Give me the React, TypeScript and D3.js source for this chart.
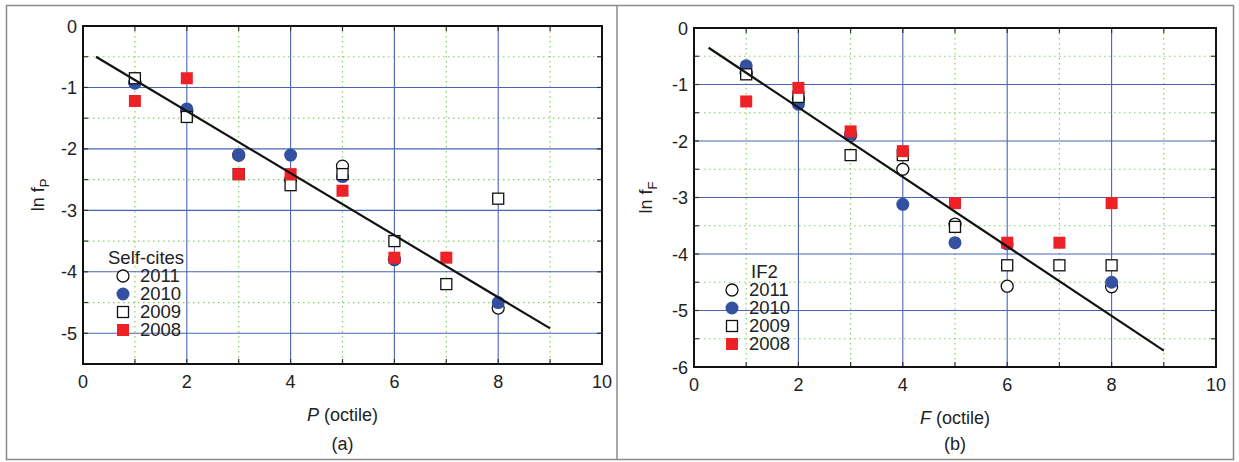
import React from 'react';
import * as d3 from 'd3';

// octile positions
const octiles = [1, 2, 3, 4, 5, 6, 7, 8];
const years = ['2011', '2010', '2009', '2008'];

// Self-cites (panel a)
const self2011 = [-0.92, -1.38, -2.1, -2.5, -2.28, -3.8, null, -4.59];
const self2010 = [-0.93, -1.35, -2.1, -2.1, -2.45, -3.8, null, -4.5];
const self2009 = [-0.85, -1.48, -2.41, -2.59, -2.41, -3.5, -4.2, -2.81];
const self2008 = [-1.22, -0.85, -2.41, -2.41, -2.68, -3.77, -3.77, null];
const selfFitX = [0.25, 9.0];
const selfFitY = [-0.5, -4.92];

// IF2 (panel b)
const if2011 = [-0.8, -1.25, -1.9, -2.5, -3.47, -4.57, null, -4.58];
const if2010 = [-0.67, -1.35, -1.88, -3.12, -3.8, -3.82, null, -4.5];
const if2009 = [-0.82, -1.22, -2.25, -2.25, -3.52, -4.2, -4.2, -4.2];
const if2008 = [-1.3, -1.06, -1.83, -2.18, -3.1, -3.8, -3.8, -3.1];
const ifFitX = [0.28, 9.0];
const ifFitY = [-0.35, -5.71];

const xTicks = [0, 2, 4, 6, 8, 10];
const selfYTicks = [0, -1, -2, -3, -4, -5];
const ifYTicks = [0, -1, -2, -3, -4, -5, -6];

const BLUE = '#3350a3';
const RED = '#ee2127';
const GRID = '#4a64b4';
const MINOR = '#86cf62';
const FONT = '"Liberation Sans", Arial, sans-serif';

type Marker = 'openCircle' | 'blueCircle' | 'openSquare' | 'redSquare';
const markers: Marker[] = ['openCircle', 'blueCircle', 'openSquare', 'redSquare'];

function Mark({ type, cx, cy }: { type: Marker; cx: number; cy: number }) {
  if (type === 'openCircle') return <circle cx={cx} cy={cy} r={6} fill="#fff" stroke="#111" strokeWidth={1.3} />;
  if (type === 'blueCircle') return <circle cx={cx} cy={cy} r={6.5} fill={BLUE} />;
  if (type === 'openSquare') return <rect x={cx - 5.5} y={cy - 5.5} width={11} height={11} fill="#fff" stroke="#111" strokeWidth={1.3} />;
  return <rect x={cx - 6} y={cy - 6} width={12} height={12} fill={RED} />;
}

interface PanelProps {
  x0: number; x1: number; y0: number; y1: number;
  yMin: number; yTicks: number[];
  series: (number | null)[][];
  fitX: number[]; fitY: number[];
  sub: string; xVar: string; tag: string;
  legendTitle: string; legendX: number; legendTitleX: number; legendY: number; legendStep: number;
  yLabelX: number;
}

function Panel(p: PanelProps) {
  const x = d3.scaleLinear().domain([0, 10]).range([p.x0, p.x1]);
  const y = d3.scaleLinear().domain([0, p.yMin]).range([p.y0, p.y1]);
  const minorX = d3.range(1, 10, 2);
  const majorX = d3.range(2, 10, 2);
  const halfY = d3.range(-0.5, p.yMin, -1);
  const allHalf = d3.range(-0.5, p.yMin, -0.5);
  const majorY = d3.range(-1, p.yMin, -1);
  const line = d3.line<number>().x((d, i) => x(p.fitX[i])).y((d) => y(d));
  const midX = (p.x0 + p.x1) / 2;
  const midY = (p.y0 + p.y1) / 2;
  return (
    <g fontFamily={FONT} fill="#222">
      {minorX.map((v) => (
        <line key={'mx' + v} x1={x(v)} x2={x(v)} y1={p.y0} y2={p.y1} stroke={MINOR} strokeWidth={1.2} strokeDasharray="1.5,3.5" />
      ))}
      {halfY.map((v) => (
        <line key={'my' + v} x1={p.x0} x2={p.x1} y1={y(v)} y2={y(v)} stroke={MINOR} strokeWidth={1.2} strokeDasharray="1.5,3.5" />
      ))}
      {majorX.map((v) => (
        <line key={'gx' + v} x1={x(v)} x2={x(v)} y1={p.y0} y2={p.y1} stroke={GRID} strokeWidth={1.1} />
      ))}
      {majorY.map((v) => (
        <line key={'gy' + v} x1={p.x0} x2={p.x1} y1={y(v)} y2={y(v)} stroke={GRID} strokeWidth={1.1} />
      ))}
      {/* inward ticks */}
      {d3.range(1, 10).map((v) => (
        <g key={'tx' + v}>
          <line x1={x(v)} x2={x(v)} y1={p.y0} y2={p.y0 + 5} stroke="#333" strokeWidth={1.2} />
          <line x1={x(v)} x2={x(v)} y1={p.y1} y2={p.y1 - 5} stroke="#333" strokeWidth={1.2} />
        </g>
      ))}
      {allHalf.map((v) => (
        <g key={'ty' + v}>
          <line x1={p.x0} x2={p.x0 + 5} y1={y(v)} y2={y(v)} stroke="#333" strokeWidth={1.2} />
          <line x1={p.x1} x2={p.x1 - 5} y1={y(v)} y2={y(v)} stroke="#333" strokeWidth={1.2} />
        </g>
      ))}
      <rect x={p.x0} y={p.y0} width={p.x1 - p.x0} height={p.y1 - p.y0} fill="none" stroke="#111" strokeWidth={2} />
      {xTicks.map((v) => (
        <text key={'xl' + v} x={x(v)} y={p.y1 + 24} textAnchor="middle" fontSize={18}>{v}</text>
      ))}
      {p.yTicks.map((v) => (
        <text key={'yl' + v} x={p.x0 - 6} y={y(v) + 6.5} textAnchor="end" fontSize={18}>{v}</text>
      ))}
      {p.series.map((vals, si) =>
        vals.map((v, i) => (v === null ? null : <Mark key={si + '-' + i} type={markers[si]} cx={x(octiles[i])} cy={y(v)} />))
      )}
      <path d={line(p.fitY) || ''} fill="none" stroke="#111" strokeWidth={2.2} />
      {/* legend */}
      <text x={p.legendTitleX} y={p.legendY} fontSize={18.5}>{p.legendTitle}</text>
      {years.map((yr, i) => (
        <g key={yr}>
          <Mark type={markers[i]} cx={p.legendX} cy={p.legendY + (i + 1) * p.legendStep - 6} />
          <text x={p.legendX + 17} y={p.legendY + (i + 1) * p.legendStep} fontSize={18.5}>{yr}</text>
        </g>
      ))}
      <text x={midX} y={p.y1 + 57} textAnchor="middle" fontSize={18}>
        <tspan fontStyle="italic">{p.xVar}</tspan> (octile)
      </text>
      <text x={midX} y={450} textAnchor="middle" fontSize={18}>{p.tag}</text>
      <text transform={`translate(${p.yLabelX},${midY}) rotate(-90)`} textAnchor="middle" fontSize={18}>
        ln f<tspan fontSize={13} dy={5}>{p.sub}</tspan>
      </text>
    </g>
  );
}

export default function App() {
  return (
    <svg width={1239} height={462} style={{ position: 'absolute', left: 0, top: 0, background: '#fff' }}>
      <rect x={6.5} y={5.5} width={1227} height={454} fill="none" stroke="#8a8a8a" strokeWidth={1.5} />
      <line x1={617} x2={617} y1={5.5} y2={459.5} stroke="#8a8a8a" strokeWidth={1.5} />
      <Panel
        x0={83} x1={602} y0={26} y1={364} yMin={-5.5} yTicks={selfYTicks}
        series={[self2011, self2010, self2009, self2008]}
        fitX={selfFitX} fitY={selfFitY}
        sub="P" xVar="P" tag="(a)"
        legendTitle="Self-cites" legendTitleX={108} legendX={123} legendY={264} legendStep={18}
        yLabelX={44}
      />
      <Panel
        x0={694} x1={1216} y0={28} y1={367} yMin={-6} yTicks={ifYTicks}
        series={[if2011, if2010, if2009, if2008]}
        fitX={ifFitX} fitY={ifFitY}
        sub="F" xVar="F" tag="(b)"
        legendTitle="IF2" legendTitleX={751} legendX={732} legendY={278} legendStep={18}
        yLabelX={652}
      />
    </svg>
  );
}
